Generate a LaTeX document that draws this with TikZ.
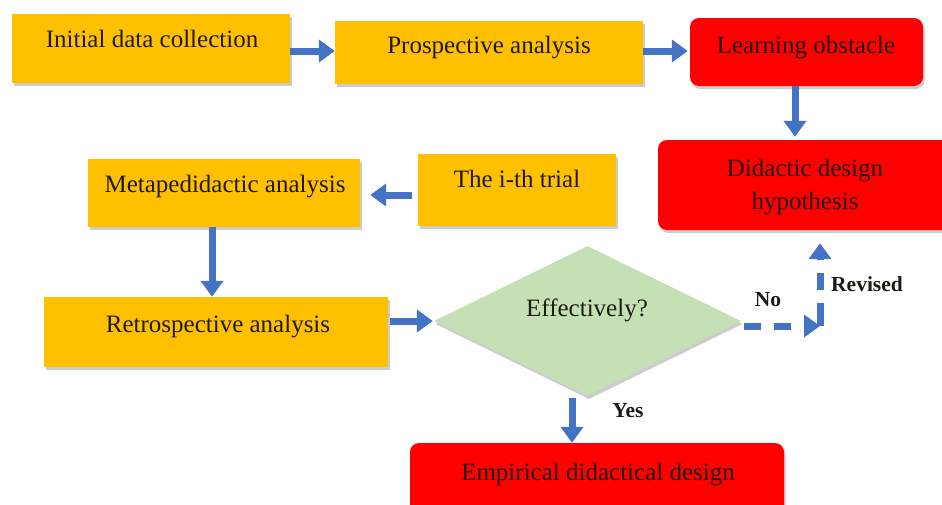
\documentclass[tikz,border=0pt]{standalone}
\usepackage{fontspec}
\setmainfont{Liberation Serif}
\usetikzlibrary{arrows.meta,shadows,shapes.geometric}
\definecolor{orng}{HTML}{FFC000}
\definecolor{rd}{HTML}{FF0000}
\definecolor{grn}{HTML}{C5E0B4}
\definecolor{blu}{HTML}{4472C4}
\definecolor{ink}{HTML}{1E1A14}
\tikzset{
  shade/.style={drop shadow={shadow xshift=1.5pt,shadow yshift=-3pt,opacity=0.2,fill=black}},
  obox/.style={rectangle,fill=orng,draw=none,inner sep=0pt,shade},
  rbox/.style={rectangle,fill=rd,draw=none,inner sep=0pt,rounded corners=9pt,shade},
  txt/.style={anchor=base,inner sep=0pt,text=ink,font=\fontsize{25}{29}\selectfont},
  lbl/.style={anchor=base,inner sep=0pt,text=ink,font=\bfseries\fontsize{21.5}{24}\selectfont},
  flow/.style={draw=blu,line width=7pt,-{Triangle[width=22pt,length=16pt]}},
  dflow/.style={flow,dash pattern=on 17pt off 13pt}
}
\begin{document}
\begin{tikzpicture}[x=1pt,y=-1pt]
\useasboundingbox (0,0) rectangle (942,504);
% boxes
\node[obox,minimum width=278pt,minimum height=69pt] (b1) at (151,48.5) {};
\node[obox,minimum width=308pt,minimum height=63pt] (b2) at (489,52.5) {};
\node[rbox,minimum width=233pt,minimum height=68pt] (b3) at (806.5,52) {};
\node[rbox,minimum width=300pt,minimum height=90pt] (b4) at (808,185) {};
\node[obox,minimum width=198pt,minimum height=72pt] (b5) at (517,190) {};
\node[obox,minimum width=272pt,minimum height=68pt] (b6) at (224,193) {};
\node[obox,minimum width=344pt,minimum height=70pt] (b7) at (216,332) {};
\node[diamond,fill=grn,draw=none,inner sep=0pt,minimum width=307pt,minimum height=150pt,shade] (d) at (587.5,321) {};
\node[rbox,minimum width=374pt,minimum height=80pt] (b8) at (597,483) {};
% texts
\node[txt] (t1) at (152,47) {Initial data collection};
\node[txt] (t2) at (489,53) {Prospective analysis};
\node[txt] (t3) at (806,53) {Learning obstacle};
\node[txt] (t4a) at (805,176) {Didactic design};
\node[txt] (t4b) at (805,209) {hypothesis};
\node[txt] (t5) at (517,187) {The i-th trial};
\node[txt] (t6) at (225,192) {Metapedidactic analysis};
\node[txt] (t7) at (218,332) {Retrospective analysis};
\node[txt] (t8) at (587,316) {Effectively?};
\node[txt] (t9) at (598,480) {Empirical didactical design};
% connectors
\draw[flow] (b1.east |- 0,51) -- (b2.west |- 0,51);
\draw[flow] (b2.east |- 0,51) -- ([xshift=-2pt]b3.west |- 0,51);
\draw[flow] (b3.south -| 795,0) -- ([yshift=3pt]b4.north -| 795,0);
\draw[flow] ([xshift=-6pt]b5.west |- 0,195) -- ([xshift=10pt]b6.east |- 0,195);
\draw[flow] (b6.south -| 212,0) -- (b7.north -| 212,0);
\draw[flow] ([xshift=2pt]b7.east |- d.west) -- ([xshift=-1pt]d.west);
\draw[flow] ([yshift=-2pt]d.south -| 572,0) -- (b8.north -| 572,0);
\coordinate (c) at (820,326);
\draw[dflow] ([xshift=3pt]d.east |- c) -- (c);
\draw[dflow,dash pattern=on 23pt off 13pt on 17pt off 13pt] (c) -- ([yshift=-13pt]c |- b4.south);
% labels
\node[lbl] (no) at (768,306) {No};
\node[lbl] (rev) at (867,291) {Revised};
\node[lbl] (yes) at (628,417) {Yes};
\end{tikzpicture}
\end{document}
